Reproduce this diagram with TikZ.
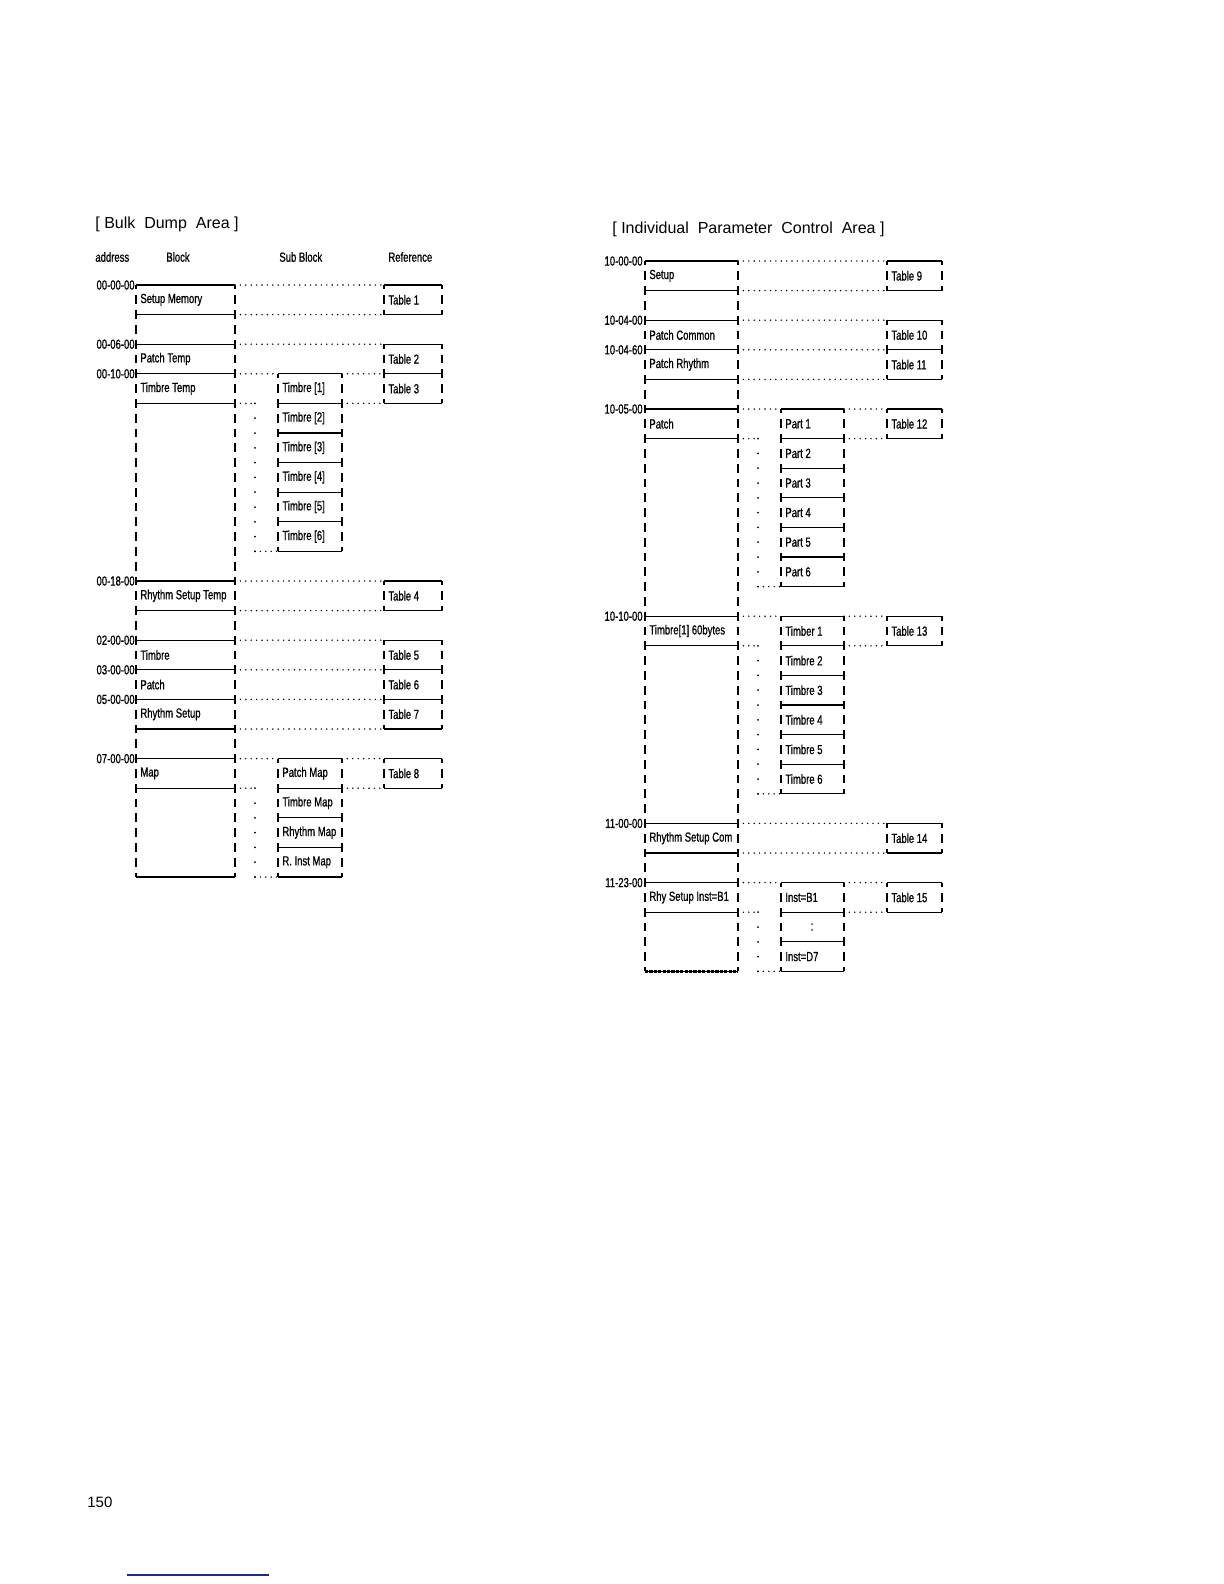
\documentclass[tikz,border=0pt]{standalone}
\usepackage{fontspec}
\usepackage{xcolor}
\usepackage{tikz}
\usetikzlibrary{calc}

\newfontfamily\dotfont[FakeStretch=0.72, FakeBold=0.8]{Liberation Sans}
\newfontfamily\headfont{Liberation Sans}
\definecolor{linkblue}{RGB}{30,40,140}

% one cell of the map: name, left x, right x, top row, bottom row, label
\newcommand\cell[6]{%
  \coordinate (#1-nw) at (#2,#4); \coordinate (#1-ne) at (#3,#4);
  \coordinate (#1-sw) at (#2,#5); \coordinate (#1-se) at (#3,#5);
  \draw[hline] (#1-nw) -- (#1-ne) (#1-sw) -- (#1-se);
  \draw[vbar] (#1-nw) -- (#1-sw) (#1-ne) -- (#1-se);
  \node[lbl, anchor=west] (#1) at (#2+4,#4+1) {#6};}
% dotted bracket from a block down to its last sub block
\newcommand\fan[2]{%
  \draw[hdots] (#1) -- ++(20,0) coordinate (#1-k);
  \draw[vdots] (#1-k) -- (#1-k |- #2);
  \draw[hdots] (#1-k |- #2) -- (#2);}

\begin{document}
\begin{tikzpicture}[x=0.5bp, y=-0.5bp,
    lbl/.style={font=\dotfont\fontsize{6.6bp}{7bp}\selectfont, inner sep=0pt},
    addr/.style={lbl, anchor=east},
    title/.style={font=\headfont\fontsize{8bp}{10bp}\selectfont, inner sep=0pt, anchor=west},
    hline/.style={line width=0.55bp},
    vbar/.style={line width=0.6bp, dash pattern=on 4.4bp off 3bp, dash phase=2.2bp},
    eqline/.style={line width=1.1bp, dash pattern=on 1.6bp off 0.6bp},
    hdots/.style={line width=0.8bp, line cap=round, dash pattern=on 0bp off 2.7bp},
    vdots/.style={line width=1bp, line cap=round, dash pattern=on 0bp off 7.4bp}
]
\fill[white] (0,0) rectangle (1224,1584);
\useasboundingbox (0,0) rectangle (1224,1584);

\node[title] (bulktitle) at (95,224) {[ Bulk\ \ Dump\ \ Area ]};
\node[title] (ipctitle) at (612,229) {[ Individual\ \ Parameter\ \ Control\ \ Area ]};

\node[lbl, anchor=west] (haddr) at (95,257) {address};
\node[lbl, anchor=west] (hblock) at (166,257) {Block};
\node[lbl, anchor=west] (hsub) at (279,257) {Sub Block};
\node[lbl, anchor=west] (href) at (388,257) {Reference};

% Bulk dump area
\begin{scope}[shift={(0,285)}, y=-7.4bp]
  \node[addr] (a0) at (135,0) {00-00-00};
  \node[addr] (a1) at (135,4) {00-06-00};
  \node[addr] (a2) at (135,6) {00-10-00};
  \node[addr] (a3) at (135,20) {00-18-00};
  \node[addr] (a4) at (135,24) {02-00-00};
  \node[addr] (a5) at (135,26) {03-00-00};
  \node[addr] (a6) at (135,28) {05-00-00};
  \node[addr] (a7) at (135,32) {07-00-00};

  \cell{setupmem}{136}{235}{0}{2}{Setup Memory}
  \cell{setupmem2}{136}{235}{2}{4}{}
  \cell{patchtemp}{136}{235}{4}{6}{Patch Temp}
  \cell{timbtemp}{136}{235}{6}{8}{Timbre Temp}
  \cell{timbtemp2}{136}{235}{8}{20}{}
  \cell{rhytemp}{136}{235}{20}{22}{Rhythm Setup Temp}
  \cell{rhytemp2}{136}{235}{22}{24}{}
  \cell{timbre}{136}{235}{24}{26}{Timbre}
  \cell{patch}{136}{235}{26}{28}{Patch}
  \cell{rhysetup}{136}{235}{28}{30}{Rhythm Setup}
  \cell{rhysetup2}{136}{235}{30}{32}{}
  \cell{map}{136}{235}{32}{34}{Map}
  \cell{map2}{136}{235}{34}{40}{}
  \draw[eqline] (setupmem-nw) -- (setupmem-ne);
  \draw[eqline] (map2-sw) -- (map2-se);

  \cell{ltimb1}{278}{342}{6}{8}{Timbre [1]}
  \cell{ltimb2}{278}{342}{8}{10}{Timbre [2]}
  \cell{ltimb3}{278}{342}{10}{12}{Timbre [3]}
  \cell{ltimb4}{278}{342}{12}{14}{Timbre [4]}
  \cell{ltimb5}{278}{342}{14}{16}{Timbre [5]}
  \cell{ltimb6}{278}{342}{16}{18}{Timbre [6]}
  \cell{patchmap}{278}{342}{32}{34}{Patch Map}
  \cell{timbmap}{278}{342}{34}{36}{Timbre Map}
  \cell{rhymap}{278}{342}{36}{38}{Rhythm Map}
  \cell{rinstmap}{278}{342}{38}{40}{R. Inst Map}

  \cell{tab1}{384}{442}{0}{2}{Table 1}
  \cell{tab2}{384}{442}{4}{6}{Table 2}
  \cell{tab3}{384}{442}{6}{8}{Table 3}
  \cell{tab4}{384}{442}{20}{22}{Table 4}
  \cell{tab5}{384}{442}{24}{26}{Table 5}
  \cell{tab6}{384}{442}{26}{28}{Table 6}
  \cell{tab7}{384}{442}{28}{30}{Table 7}
  \cell{tab8}{384}{442}{32}{34}{Table 8}

  \draw[hdots] (setupmem-ne) -- (tab1-nw);
  \draw[hdots] (setupmem-se) -- (tab1-sw);
  \draw[hdots] (patchtemp-ne) -- (tab2-nw);
  \draw[hdots] (timbtemp-ne) -- (ltimb1-nw);
  \draw[hdots] (ltimb1-ne) -- (tab3-nw);
  \draw[hdots] (ltimb1-se) -- (tab3-sw);
  \fan{timbtemp-se}{ltimb6-sw}
  \draw[hdots] (rhytemp-ne) -- (tab4-nw);
  \draw[hdots] (rhytemp-se) -- (tab4-sw);
  \draw[hdots] (timbre-ne) -- (tab5-nw);
  \draw[hdots] (patch-ne) -- (tab6-nw);
  \draw[hdots] (rhysetup-ne) -- (tab7-nw);
  \draw[hdots] (rhysetup-se) -- (tab7-sw);
  \draw[hdots] (map-ne) -- (patchmap-nw);
  \draw[hdots] (patchmap-ne) -- (tab8-nw);
  \draw[hdots] (patchmap-se) -- (tab8-sw);
  \fan{map-se}{rinstmap-sw}
\end{scope}

% Individual parameter control area
\begin{scope}[shift={(0,261)}, y=-7.4bp]
  \node[addr] (b0) at (643,0) {10-00-00};
  \node[addr] (b1) at (643,4) {10-04-00};
  \node[addr] (b2) at (643,6) {10-04-60};
  \node[addr] (b3) at (643,10) {10-05-00};
  \node[addr] (b4) at (643,24) {10-10-00};
  \node[addr] (b5) at (643,38) {11-00-00};
  \node[addr] (b6) at (643,42) {11-23-00};

  \cell{setup}{645}{738}{0}{2}{Setup}
  \cell{setup2}{645}{738}{2}{4}{}
  \cell{pcommon}{645}{738}{4}{6}{Patch Common}
  \cell{prhythm}{645}{738}{6}{8}{Patch Rhythm}
  \cell{prhythm2}{645}{738}{8}{10}{}
  \cell{ipatch}{645}{738}{10}{12}{Patch}
  \cell{ipatch2}{645}{738}{12}{24}{}
  \cell{itimbre}{645}{738}{24}{26}{Timbre[1] 60bytes}
  \cell{itimbre2}{645}{738}{26}{38}{}
  \cell{rhycom}{645}{738}{38}{40}{Rhythm Setup Com}
  \cell{rhycom2}{645}{738}{40}{42}{}
  \cell{rhyinst}{645}{738}{42}{44}{Rhy Setup Inst=B1}
  \cell{rhyinst2}{645}{738}{44}{48}{}
  \draw[eqline] (setup-nw) -- (setup-ne);
  \draw[eqline] (rhyinst2-sw) -- (rhyinst2-se);

  \cell{part1}{781}{844}{10}{12}{Part 1}
  \cell{part2}{781}{844}{12}{14}{Part 2}
  \cell{part3}{781}{844}{14}{16}{Part 3}
  \cell{part4}{781}{844}{16}{18}{Part 4}
  \cell{part5}{781}{844}{18}{20}{Part 5}
  \cell{part6}{781}{844}{20}{22}{Part 6}
  \cell{timb1}{781}{844}{24}{26}{Timber 1}
  \cell{timb2}{781}{844}{26}{28}{Timbre 2}
  \cell{timb3}{781}{844}{28}{30}{Timbre 3}
  \cell{timb4}{781}{844}{30}{32}{Timbre 4}
  \cell{timb5}{781}{844}{32}{34}{Timbre 5}
  \cell{timb6}{781}{844}{34}{36}{Timbre 6}
  \cell{inst1}{781}{844}{42}{44}{Inst=B1}
  \cell{instmid}{781}{844}{44}{46}{}
  \cell{inst7}{781}{844}{46}{48}{Inst=D7}
  \node[lbl] (instdots) at (812,45) {:};

  \cell{tab9}{887}{942}{0}{2}{Table 9}
  \cell{tab10}{887}{942}{4}{6}{Table 10}
  \cell{tab11}{887}{942}{6}{8}{Table 11}
  \cell{tab12}{887}{942}{10}{12}{Table 12}
  \cell{tab13}{887}{942}{24}{26}{Table 13}
  \cell{tab14}{887}{942}{38}{40}{Table 14}
  \cell{tab15}{887}{942}{42}{44}{Table 15}

  \draw[hdots] (setup-ne) -- (tab9-nw);
  \draw[hdots] (setup-se) -- (tab9-sw);
  \draw[hdots] (pcommon-ne) -- (tab10-nw);
  \draw[hdots] (prhythm-ne) -- (tab11-nw);
  \draw[hdots] (prhythm-se) -- (tab11-sw);
  \draw[hdots] (ipatch-ne) -- (part1-nw);
  \draw[hdots] (part1-ne) -- (tab12-nw);
  \draw[hdots] (part1-se) -- (tab12-sw);
  \fan{ipatch-se}{part6-sw}
  \draw[hdots] (itimbre-ne) -- (timb1-nw);
  \draw[hdots] (timb1-ne) -- (tab13-nw);
  \draw[hdots] (timb1-se) -- (tab13-sw);
  \fan{itimbre-se}{timb6-sw}
  \draw[hdots] (rhycom-ne) -- (tab14-nw);
  \draw[hdots] (rhycom-se) -- (tab14-sw);
  \draw[hdots] (rhyinst-ne) -- (inst1-nw);
  \draw[hdots] (inst1-ne) -- (tab15-nw);
  \draw[hdots] (inst1-se) -- (tab15-sw);
  \fan{rhyinst-se}{inst7-sw}
\end{scope}

\node[title, font=\headfont\fontsize{7.5bp}{9bp}\selectfont] (pageno) at (87,1502) {150};
\draw[linkblue, line width=1bp] (127,1575) -- (269,1575);
\end{tikzpicture}
\end{document}
